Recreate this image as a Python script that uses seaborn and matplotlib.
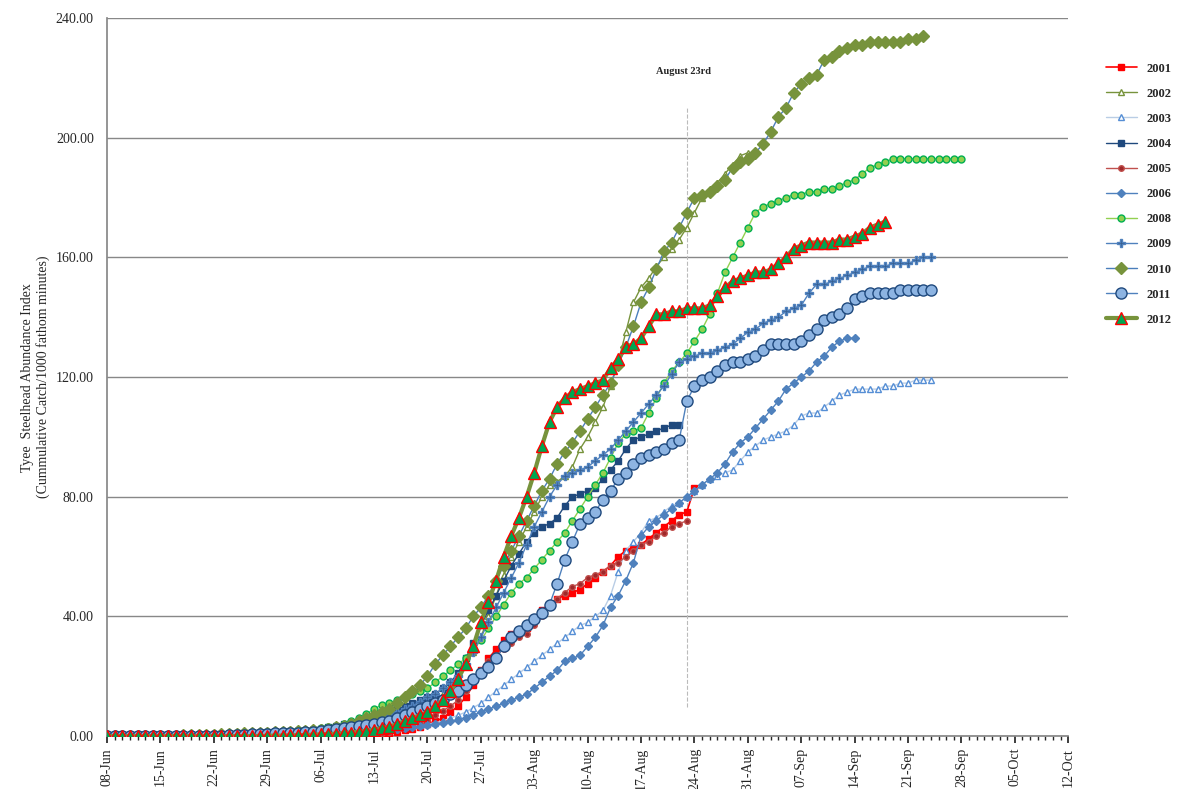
import numpy as np
import pandas as pd
import matplotlib
matplotlib.use("Agg")
import matplotlib.pyplot as plt
import seaborn as sns

# daily cumulative values starting 08-Jun (day 0)
early_a = [0,0,0,0,0,0,0.1,0.1,0.2,0.2,0.3,0.3,0.4,0.5,0.5,0.6,0.7,0.8,0.9,1.0,1.1,1.2,1.3,1.4,1.5,1.6,1.8,2.0]
y2010 = early_a + [2.2,2.5,3,3.5,4,5,6,7,8,9,11,13,15,17,
                   20,24,27,30,33,36,40,43,
                   47,52,57,62,67,72,77,82,86,91,
                   95,98,102,106,110,114,118,124,130,137,
                   145,150,156,162,165,170,175,180,181,182,
                   184,186,190,192,193,195,198,202,207,210,
                   215,218,220,221,226,227,229,230,231,231,
                   232,232,232,232,232,233,233,234]
y2002 = [0,0,0,0,0,0,0,0,0.1,0.1,0.2,0.2,0.3,0.3,0.4,0.4,0.5,0.5,0.6,0.7,0.8,0.9,1.0,1.1,1.2,1.3,1.4,1.5,
         1.7,2,2.3,2.6,3,3.5,4,4.5,5,6,7,8,9,10,
         11,12,14,17,20,24,28,33,
         40,47,54,60,65,70,75,80,84,85,
         87,90,96,100,105,110,117,125,135,145,
         150,153,157,160,163,166,170,175,180,182,
         185,188,191,194,195]
y2008 = [0,0,0,0,0,0,0,0,0.1,0.1,0.2,0.3,0.4,0.5,0.6,0.7,0.8,0.9,1.0,1.1,1.2,1.3,1.4,1.6,1.8,2.0,2.2,2.4,
         2.7,3,3.5,4,5,6,7.5,9,10.5,11,12,13,14,15,
         16,18,20,22,24,26,29,32,
         36,40,44,48,51,53,56,59,62,65,
         68,72,76,80,84,88,93,98,101,102,
         103,108,113,118,122,125,128,132,136,141,
         148,155,160,165,170,175,177,178,179,180,
         181,181,182,182,183,183,184,185,186,188,
         190,191,192,193,193,193,193,193,193,193,193,193,193]
y2012 = [0]*20 + [0.1,0.1,0.2,0.2,0.3,0.3,0.4,0.5,
         0.6,0.7,0.8,1,1.2,1.5,1.8,2.2,2.7,3.2,4,5,6,7,
         8,10,12,15,19,24,30,38,
         45,52,60,67,73,80,88,97,105,110,
         113,115,116,117,118,119,123,126,130,131,
         133,137,141,141,142,142,143,143,143,144,
         147,150,152,153,154,155,155,156,158,160,
         163,164,165,165,165,165,166,166,167,168,
         170,171,172]
y2011 = [0]*10 + [0.1]*5 + [0.2,0.3,0.4,0.5,0.6,0.7,0.8,0.9,1.0,1.1,1.2,1.3,1.5,
         1.7,2,2.3,2.6,3,3.4,3.8,4.2,4.7,5.2,6,7,8,9,
         10,11,12,14,15,17,19,21,
         23,26,30,33,35,37,39,41,44,51,
         59,65,71,73,75,79,82,86,88,91,
         93,94,95,96,98,99,112,117,119,120,
         122,124,125,125,126,127,129,131,131,131,
         131,132,134,136,139,140,141,143,146,147,
         148,148,148,148,149,149,149,149,149]
early_b = [0]*6 + [0.1,0.1,0.2,0.2,0.3,0.3,0.4,0.5,0.6,0.7,0.8,0.9,1.0,1.1,1.2,1.3,1.4,1.5,1.6,1.7,1.8,2.0]
y2009 = early_b + [2.2,2.5,2.8,3,3.5,4,4.5,5,6,7,8,9,10,11.5,
         13,14,16,18,20,24,28,33,
         38,43,48,53,58,64,70,75,80,84,
         87,88,89,90,92,94,96,99,102,105,
         108,111,114,117,121,125,126,127,128,128,
         129,130,131,133,135,136,138,139,140,142,
         143,144,148,151,151,152,153,154,155,156,
         157,157,157,158,158,158,159,160,160]
y2004 = early_b + [2.5,3,3.5,4,4.5,5,5.5,6,7,8,9,10,11,12,
         13,14,16,18,21,26,31,37,
         42,47,52,57,61,65,68,70,71,73,
         77,80,81,82,83,86,89,92,96,99,
         100,101,102,103,104,104]
y2001 = [0]*28 + [0,0,0,0,0,0.1,0.2,0.4,0.7,1,1.5,2,2.5,3,
         4,5,6,8,10,13,17,22,
         26,29,32,34,35,36,39,42,44,46,
         47,48,49,51,53,55,57,60,62,63,
         64,66,68,70,72,74,75,83]
y2005 = [0]*28 + [0,0,0,0,0.1,0.2,0.4,0.7,1,1.5,2,2.8,3.5,4.5,
         5.5,7,8.5,10,12,15,19,22,
         25,27,29,31,33,34,37,40,43,46,
         48,50,51,53,54,55,57,58,60,62,
         64,65,67,68,70,71,72]
y2003 = [0]*12 + [0.1]*6 + [0.2,0.3,0.4,0.5,0.6,0.7,0.8,0.9,1.0,1.1,
         1.2,1.3,1.4,1.5,1.6,1.8,2,2.2,2.4,2.6,2.8,3,3.3,3.6,
         4,4.5,5,6,7,8,9.5,11,
         13,15,17,19,21,23,25,27,29,31,
         33,35,37,38,40,42,47,55,62,65,
         68,72,73,75,77,78,80,82,84,86,
         87,88,89,92,95,97,99,100,101,102,
         104,107,108,108,110,112,114,115,116,116,
         116,116,117,117,118,118,119,119,119]
y2006 = [0]*10 + [0.1]*6 + [0.2,0.3,0.4,0.5,0.6,0.7,0.8,0.9,1.0,1.1,1.2,1.3,
         1.4,1.5,1.6,1.7,1.8,1.9,2,2.1,2.2,2.3,2.5,2.7,3,3.3,
         3.6,4,4.5,5,5.5,6,7,8,
         9,10,11,12,13,14,16,18,20,22,
         25,26,27,30,33,37,43,47,52,58,
         67,70,72,74,76,78,80,82,84,86,
         88,91,95,98,100,103,106,109,112,116,
         118,120,122,125,127,130,132,133,133]

series = {"2001": y2001, "2002": y2002, "2003": y2003, "2004": y2004, "2005": y2005,
          "2006": y2006, "2008": y2008, "2009": y2009, "2010": y2010, "2011": y2011, "2012": y2012}

tick_labels = ["08-Jun","15-Jun","22-Jun","29-Jun","06-Jul","13-Jul","20-Jul","27-Jul",
               "03-Aug","10-Aug","17-Aug","24-Aug","31-Aug","07-Sep","14-Sep","21-Sep",
               "28-Sep","05-Oct","12-Oct"]
aug23_day = 76

styles = {
    "2001": dict(color="#FF0000", marker="s", ms=4.5, mfc="#FF0000", mec="#FF0000", lw=1.2),
    "2002": dict(color="#77933C", marker="^", ms=5, mfc="#FFFFFF", mec="#77933C", lw=1.0),
    "2003": dict(color="#B9CDE5", marker="^", ms=5, mfc="#FFFFFF", mec="#558ED5", lw=1.0),
    "2004": dict(color="#1F497D", marker="s", ms=5, mfc="#1F497D", mec="#1F497D", lw=1.0),
    "2005": dict(color="#C0504D", marker="o", ms=4, mfc="#A0282A", mec="#C0504D", lw=1.0),
    "2006": dict(color="#4F81BD", marker="D", ms=4.5, mfc="#4F81BD", mec="#4F81BD", lw=1.0),
    "2008": dict(color="#92D050", marker="o", ms=5, mfc="#92D050", mec="#00B050", lw=1.0),
    "2009": dict(color="#4F81BD", marker="P", ms=6, mfc="#376092", mec="#4F81BD", lw=1.0),
    "2010": dict(color="#4A7EBB", marker="D", ms=6.5, mfc="#77933C", mec="#77933C", lw=1.0),
    "2011": dict(color="#4F81BD", marker="o", ms=8, mfc="#8DB4E2", mec="#1F497D", lw=1.0),
    "2012": dict(color="#77933C", marker="^", ms=8, mfc="#00A651", mec="#FF0000", lw=3.0),
}

sns.set_theme(style="white")
plt.rcParams['font.family'] = ['Liberation Serif', 'DejaVu Serif']

fig = plt.figure(figsize=(11.83, 7.89), dpi=100)
ax = fig.add_axes([0.0905, 0.067, 0.8125, 0.910])

for name, vals in series.items():
    st = styles[name]
    df = pd.DataFrame({"day": np.arange(len(vals)), "v": vals})
    sns.lineplot(data=df, x="day", y="v", ax=ax, color=st["color"], lw=st["lw"],
                 marker=st["marker"], markersize=st["ms"], markerfacecolor=st["mfc"],
                 markeredgecolor=st["mec"], markeredgewidth=1.0, label=name, zorder=3)

ax.axvline(aug23_day, ymin=0.04, ymax=0.875, color="#BBBBBB", ls="--", lw=0.8, zorder=1)
ax.text(aug23_day - 0.5, 222, "August 23rd", ha="center", va="center", fontsize=7.5, fontweight="bold")

ax.set_xlim(0, 126)
ax.set_ylim(0, 240)
ax.set_xticks(np.arange(0, 127, 7))
ax.set_xticklabels(tick_labels, rotation=90, fontsize=10)
ax.set_xticks(np.arange(0, 127, 1), minor=True)
ax.tick_params(axis="x", which="major", length=5, direction="out", bottom=True)
ax.tick_params(axis="x", which="minor", length=3, direction="out", bottom=True)
yt = np.arange(0, 241, 40)
ax.set_yticks(yt)
ax.set_yticklabels([f"{v:.2f}" for v in yt], fontsize=10)
ax.yaxis.grid(True, color="#888888", lw=1.0)
ax.xaxis.grid(False)
for s in ["top", "right"]:
    ax.spines[s].set_visible(False)
ax.spines["left"].set_color("#888888")
ax.spines["bottom"].set_color("#888888")
ax.set_xlabel("")
ax.set_ylabel("Tyee  Steelhead Abundance Index\n(Cummulative Catch/1000 fathom minutes)", fontsize=10)

h, l = ax.get_legend_handles_labels()
ax.get_legend().remove()
fig.legend(h, l, loc="upper left", bbox_to_anchor=(0.925, 0.935), frameon=False,
           prop={"weight": "bold", "size": 9}, labelspacing=1.05, handlelength=2.5)

fig.savefig("out.png", dpi=100)
